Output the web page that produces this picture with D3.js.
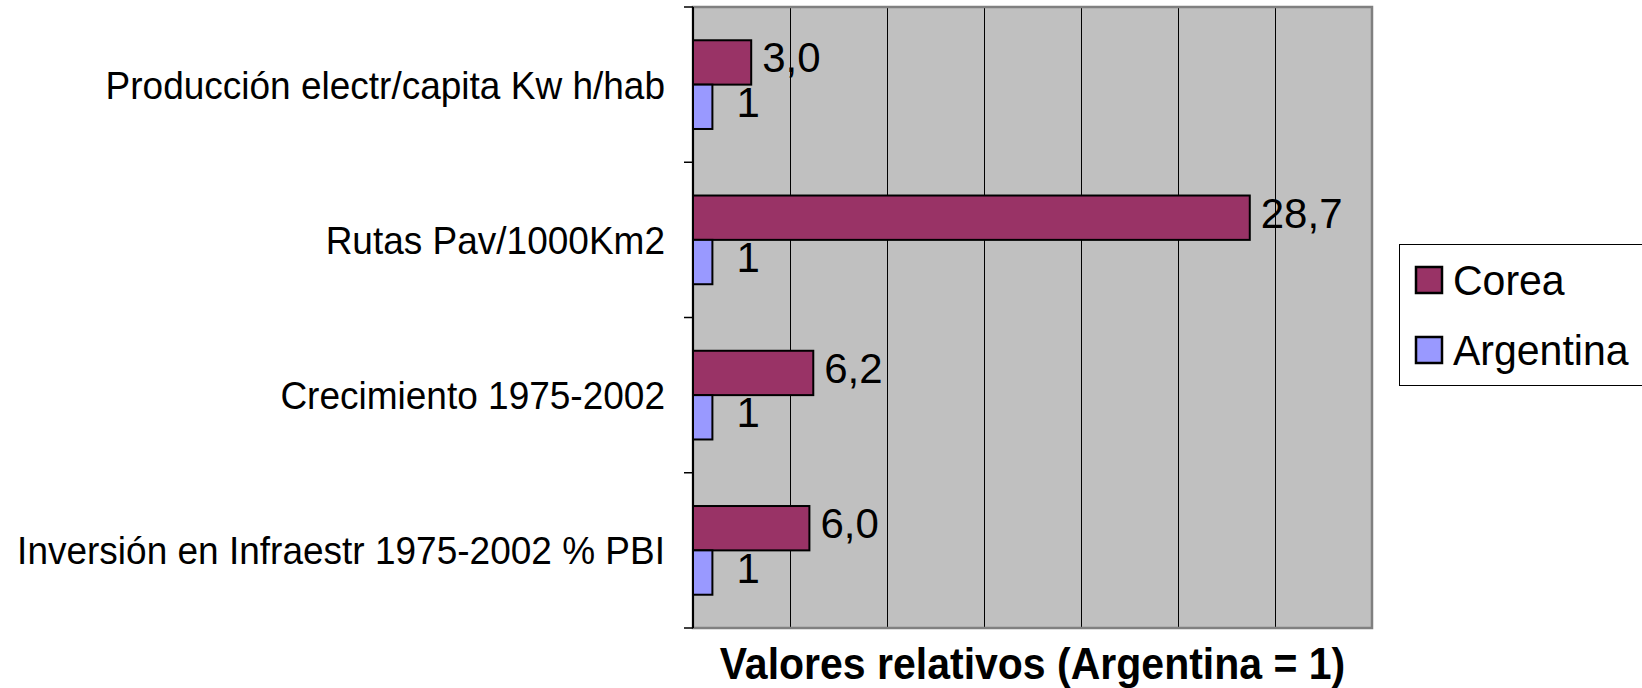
<!DOCTYPE html>
<html>
<head>
<meta charset="utf-8">
<script src="https://cdn.jsdelivr.net/npm/d3@7"></script>
<style>
  body { margin: 0; background: #fff; }
  svg { display: block; font-family: "Liberation Sans", Arial, sans-serif; }
</style>
</head>
<body>
<svg id="chart" width="1642" height="688"></svg>
<script>
// Categories, top to bottom
const categories = [
  "Producción electr/capita Kw h/hab",
  "Rutas Pav/1000Km2",
  "Crecimiento 1975-2002",
  "Inversión en Infraestr 1975-2002 % PBI"
];
const seriesNames = ["Corea", "Argentina"];
const corea = [3.0, 28.7, 6.2, 6.0];
const argentina = [1, 1, 1, 1];
const coreaLabels = ["3,0", "28,7", "6,2", "6,0"];
const argentinaLabels = ["1", "1", "1", "1"];
const xTicks = [0, 5, 10, 15, 20, 25, 30, 35];
const colors = { Corea: "#993366", Argentina: "#9999FF" };

const svg = d3.select("#chart");

// plot area
const plotL = 693, plotR = 1372, plotT = 7, plotB = 628;

const x = d3.scaleLinear().domain([0, 35]).range([plotL, plotR]);
const y = d3.scaleBand().domain(categories).range([plotT, plotB])
  .paddingInner(0.4286).paddingOuter(0.2143);
const ySub = d3.scaleBand().domain(seriesNames).range([0, y.bandwidth()]);

// squeeze text horizontally: measure at base size, draw taller at same width
function condense(sel, baseSize, drawSize) {
  sel.each(function () {
    const t = d3.select(this).attr("font-size", baseSize);
    const w = this.getComputedTextLength();
    t.attr("font-size", drawSize)
      .attr("textLength", w)
      .attr("lengthAdjust", "spacingAndGlyphs");
  });
}

// background
svg.append("rect")
  .attr("x", plotL).attr("y", plotT)
  .attr("width", plotR - plotL).attr("height", plotB - plotT)
  .attr("fill", "#C0C0C0");

// gridlines
const grid = svg.append("g")
  .attr("transform", `translate(0,${plotB})`)
  .call(d3.axisBottom(x).tickValues(xTicks.slice(1, -1)).tickSize(-(plotB - plotT)).tickFormat(""));
grid.select(".domain").remove();
grid.selectAll(".tick line").attr("stroke", "#000").attr("stroke-width", 1);

// plot border
svg.append("rect")
  .attr("x", plotL).attr("y", plotT)
  .attr("width", plotR - plotL).attr("height", plotB - plotT)
  .attr("fill", "none").attr("stroke", "#808080").attr("stroke-width", 2.5);

// bars
const rows = categories.map((c, i) => ({
  cat: c,
  vals: [
    { s: "Corea", v: corea[i], label: coreaLabels[i], dx: 11 },
    { s: "Argentina", v: argentina[i], label: argentinaLabels[i], dx: 24 }
  ]
}));

const groups = svg.selectAll("g.cat").data(rows).join("g")
  .attr("class", "cat")
  .attr("transform", d => `translate(0,${y(d.cat)})`);

groups.selectAll("rect").data(d => d.vals).join("rect")
  .attr("x", x(0))
  .attr("y", d => ySub(d.s))
  .attr("width", d => x(d.v) - x(0))
  .attr("height", ySub.bandwidth())
  .attr("fill", d => colors[d.s])
  .attr("stroke", "#000").attr("stroke-width", 2);

groups.selectAll("text").data(d => d.vals).join("text")
  .attr("x", d => x(d.v) + d.dx)
  .attr("y", d => ySub(d.s) + ySub.bandwidth() / 2 + 10)
  .attr("fill", "#000")
  .text(d => d.label)
  .call(condense, 42, 43);

// left axis with ticks at category boundaries
const bounds = d3.range(categories.length + 1).map(i => plotT + i * (plotB - plotT) / categories.length);
svg.append("line")
  .attr("x1", plotL).attr("x2", plotL).attr("y1", plotT).attr("y2", plotB)
  .attr("stroke", "#000").attr("stroke-width", 2);
svg.selectAll("line.ytick").data(bounds).join("line")
  .attr("class", "ytick")
  .attr("x1", plotL - 9).attr("x2", plotL)
  .attr("y1", d => d).attr("y2", d => d)
  .attr("stroke", "#000").attr("stroke-width", 1.5);

// category labels
svg.selectAll("text.catlabel").data(categories).join("text")
  .attr("class", "catlabel")
  .attr("x", 665)
  .attr("y", d => y(d) + y.bandwidth() / 2 + 14)
  .attr("text-anchor", "end")
  .attr("fill", "#000")
  .text(d => d)
  .call(condense, 37, 39);

// axis title
svg.append("text")
  .attr("x", (plotL + plotR) / 2)
  .attr("y", 679)
  .attr("text-anchor", "middle")
  .attr("font-weight", "bold")
  .text("Valores relativos (Argentina = 1)")
  .call(condense, 41, 44);

// legend
const legend = svg.append("g");
legend.append("rect")
  .attr("x", 1399.5).attr("y", 244.5)
  .attr("width", 260).attr("height", 141)
  .attr("fill", "#fff").attr("stroke", "#000").attr("stroke-width", 1);

const items = legend.selectAll("g").data(seriesNames).join("g")
  .attr("transform", (d, i) => `translate(1416,${267 + i * 70})`);
items.append("rect")
  .attr("width", 26).attr("height", 26)
  .attr("fill", d => colors[d])
  .attr("stroke", "#000").attr("stroke-width", 2.5);
items.append("text")
  .attr("x", 37).attr("y", 28)
  .text(d => d)
  .call(condense, 41, 42);
</script>
</body>
</html>
